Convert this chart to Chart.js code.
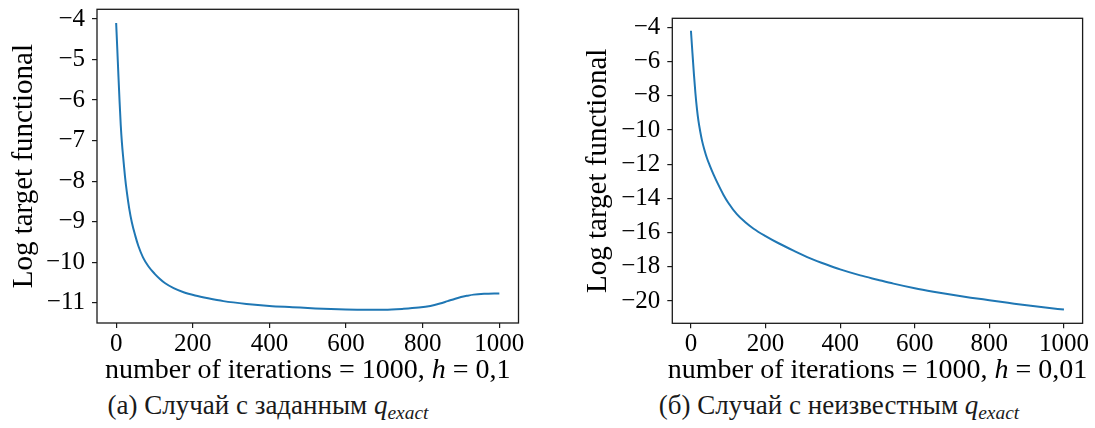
<!DOCTYPE html>
<html>
<head>
<meta charset="utf-8">
<script src="https://cdn.jsdelivr.net/npm/chart.js@4.4.1/dist/chart.umd.min.js"></script>
<style>
  html, body { margin: 0; padding: 0; background: #fff; }
  body { width: 1095px; height: 428px; position: relative; overflow: hidden;
         font-family: "Liberation Serif", "Times New Roman", serif; }
  canvas { position: absolute; top: 0; }
  #chartA { left: 0; }
  #chartB { left: 548px; }
  .caption { position: absolute; top: 392px; font-size: 27px; line-height: 27px;
             color: #1a1a1a; white-space: nowrap; transform: translateX(-50%); }
  .caption i { font-style: italic; }
  .caption sub { font-size: 0.72em; vertical-align: baseline; position: relative;
                 top: 0.28em; line-height: 0; font-style: italic; }
</style>
</head>
<body>
<canvas id="chartA" width="548" height="390"></canvas>
<canvas id="chartB" width="547" height="390"></canvas>
<div class="caption" style="left:268px">(a) Случай с заданным <i>q</i><sub>exact</sub></div>
<div class="caption" style="left:839px">(б) Случай с неизвестным <i>q</i><sub>exact</sub></div>

<script>
// Run (a): known q_exact, h = 0,1
const itersA = [0, 3, 6, 9, 12, 15, 19, 23, 28, 34, 41, 50, 58, 70, 84, 100, 115, 128, 150, 176,
                206, 240, 280, 340, 400, 460, 520, 580, 640, 700, 750, 790, 820, 845, 865, 885,
                900, 915, 933, 960, 1000];
const logJA = [-4.1, -4.75, -5.42, -6.05, -6.62, -7.05, -7.48, -7.88, -8.28, -8.67, -9.02, -9.35,
               -9.6, -9.88, -10.1, -10.28, -10.42, -10.52, -10.64, -10.74, -10.82, -10.89, -10.96,
               -11.03, -11.08, -11.11, -11.14, -11.16, -11.17, -11.17, -11.15, -11.12, -11.08,
               -11.02, -10.96, -10.9, -10.86, -10.83, -10.8, -10.78, -10.77];

// Run (б): unknown q_exact, h = 0,01
const itersB = [0, 4, 8, 12, 16, 20, 25, 30, 36, 43, 50, 61, 73, 87, 100, 123, 145, 168, 200, 235,
                275, 320, 365, 400, 454, 500, 543, 600, 650, 700, 750, 800, 850, 900, 950, 1000];
const logJB = [-4.2, -5.5, -6.75, -7.85, -8.75, -9.45, -10.1, -10.65, -11.15, -11.65, -12.05, -12.62,
               -13.18, -13.78, -14.25, -14.92, -15.38, -15.77, -16.2, -16.62, -17.05, -17.5, -17.88,
               -18.15, -18.5, -18.75, -18.98, -19.25, -19.45, -19.63, -19.8, -19.95, -20.1, -20.25,
               -20.38, -20.5];

const xTicks = [0, 200, 400, 600, 800, 1000];
const yTicksA = [-4, -5, -6, -7, -8, -9, -10, -11];
const yTicksB = [-4, -6, -8, -10, -12, -14, -16, -18, -20];

const yTitle = 'Log target functional';
const xTitleA = [['number of iterations = 1000, ', false], ['h', true], [' = 0,1', false]];
const xTitleB = [['number of iterations = 1000, ', false], ['h', true], [' = 0,01', false]];

const SERIF = '"Liberation Serif", "Times New Roman", serif';
const INK = '#1a1a1a';
const LINE = '#1f77b4';

const fmtTick = v => (v < 0 ? '\u2212' + Math.abs(v) : String(v));

// Plot frame on all four sides plus the x-axis title (with an italic h)
const frameAndTitle = {
  id: 'frameAndTitle',
  afterDraw(chart, args, opts) {
    const { ctx, chartArea: a } = chart;
    ctx.save();
    ctx.strokeStyle = INK;
    ctx.lineWidth = 1.3;
    ctx.strokeRect(a.left, a.top, a.right - a.left, a.bottom - a.top);

    const size = opts.size;
    const fontFor = it => (it ? 'italic ' : '') + size + 'px ' + SERIF;
    let total = 0;
    for (const [t, it] of opts.parts) { ctx.font = fontFor(it); total += ctx.measureText(t).width; }
    let x = (a.left + a.right) / 2 - total / 2;
    ctx.fillStyle = '#000';
    ctx.textBaseline = 'alphabetic';
    ctx.textAlign = 'left';
    for (const [t, it] of opts.parts) {
      ctx.font = fontFor(it);
      ctx.fillText(t, x, opts.baseline);
      x += ctx.measureText(t).width;
    }
    ctx.restore();
  }
};

function makeChart(id, xs, ys, cfg) {
  const points = xs.map((x, i) => ({ x: x, y: ys[i] }));
  return new Chart(document.getElementById(id), {
    type: 'line',
    data: { datasets: [{ data: points, borderColor: LINE, borderWidth: 2, pointRadius: 0,
                         fill: false, cubicInterpolationMode: 'monotone' }] },
    plugins: [frameAndTitle],
    options: {
      responsive: false,
      animation: false,
      devicePixelRatio: 1,
      layout: { padding: { left: 0, top: cfg.top, right: cfg.right, bottom: 0 } },
      plugins: {
        legend: { display: false },
        tooltip: { enabled: false },
        frameAndTitle: { parts: cfg.xTitle, size: 28, baseline: 378 }
      },
      scales: {
        x: {
          type: 'linear', min: -50, max: 1050,
          afterBuildTicks: s => { s.ticks = xTicks.map(v => ({ value: v })); },
          afterFit: s => { s.height = cfg.xHeight; s.paddingLeft = 0; s.paddingRight = 0; },
          border: { display: false },
          grid: { drawOnChartArea: false, drawTicks: true, tickLength: 5, color: INK, lineWidth: 1.2 },
          ticks: { color: '#000', font: { family: SERIF, size: 25 }, padding: 1,
                   maxRotation: 0, autoSkip: false, callback: fmtTick }
        },
        y: {
          type: 'linear', min: cfg.yMin, max: cfg.yMax,
          afterBuildTicks: s => { s.ticks = cfg.yTicks.map(v => ({ value: v })); },
          afterFit: s => { s.width = cfg.yWidth; s.paddingTop = 0; s.paddingBottom = 0; },
          border: { display: false },
          grid: { drawOnChartArea: false, drawTicks: true, tickLength: 5, color: INK, lineWidth: 1.2 },
          ticks: { color: '#000', font: { family: SERIF, size: 25 }, padding: 7,
                   autoSkip: false, callback: fmtTick },
          title: { display: true, text: yTitle, color: '#000',
                   font: { family: SERIF, size: 29 }, padding: { top: cfg.yTitlePad, bottom: 0 } }
        }
      }
    }
  });
}

makeChart('chartA', itersA, logJA, {
  top: 9.3, right: 29.5, xHeight: 67, yWidth: 97, yTitlePad: 6.5,
  yMin: -11.5, yMax: -3.76, yTicks: yTicksA, xTitle: xTitleA
});
makeChart('chartB', itersB, logJB, {
  top: 18.3, right: 12.4, xHeight: 66.7, yWidth: 124.3, yTitlePad: 32.5,
  yMin: -21.3, yMax: -3.47, yTicks: yTicksB, xTitle: xTitleB
});
</script>
</body>
</html>
